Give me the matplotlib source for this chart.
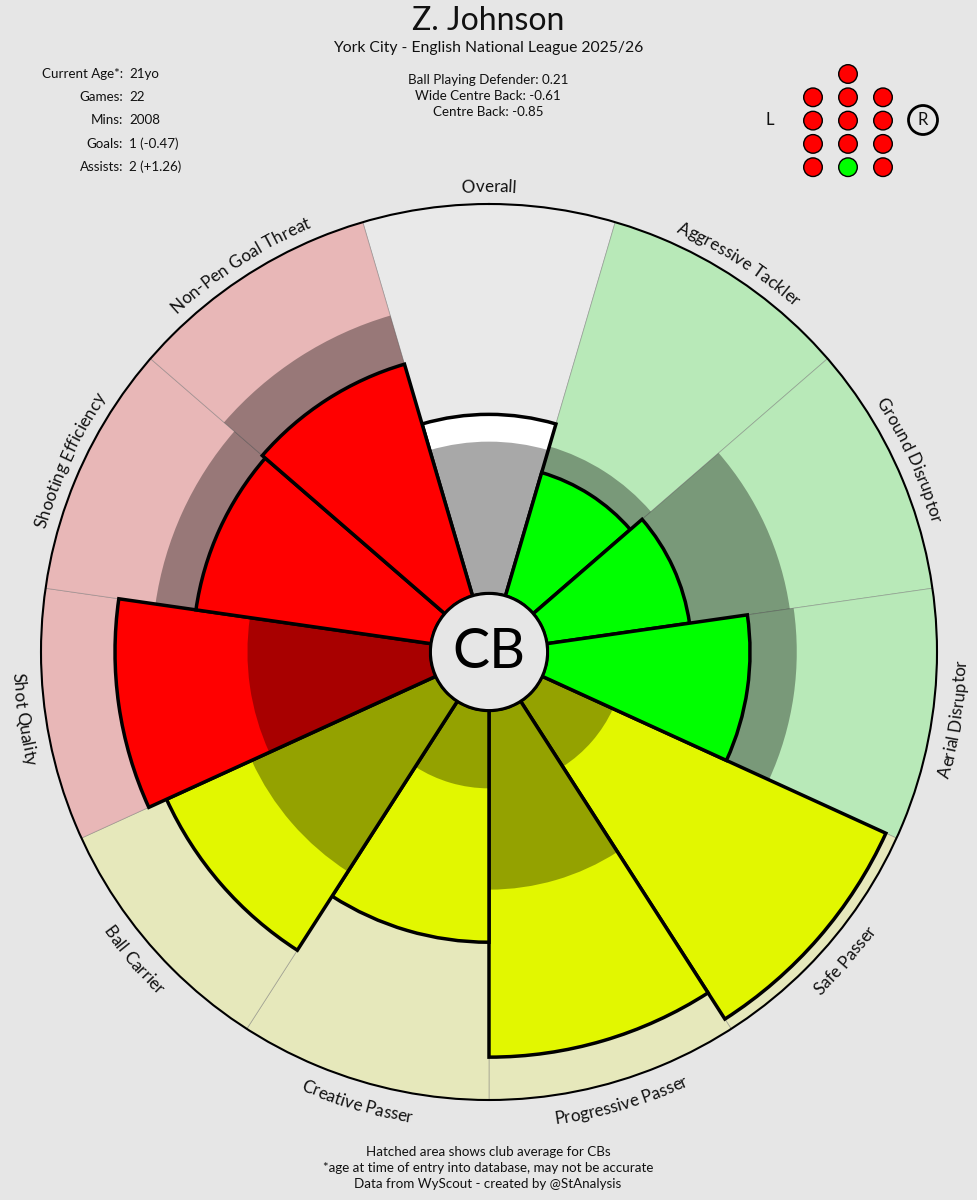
import numpy as np
import matplotlib
matplotlib.use("Agg")
import matplotlib.pyplot as plt
from matplotlib.patches import Circle
from matplotlib.font_manager import FontProperties

# ---------------- data ----------------
categories = ["Overall", "Aggressive Tackler", "Ground Disruptor", "Aerial Disruptor",
              "Safe Passer", "Progressive Passer", "Creative Passer", "Ball Carrier",
              "Shot Quality", "Shooting Efficiency", "Non-Pen Goal Threat"]
groups = ["overall", "def", "def", "def", "pass", "pass", "pass", "pass", "att", "att", "att"]
player_values = [46, 33, 37, 52, 97, 89, 59.5, 76, 81, 61, 62]
club_average = [39, 40, 63, 64, 20, 46, 20, 52, 47, 71.5, 75]

player_name = "Z. Johnson"
subtitle = "York City - English National League 2025/26"
role_names = ["Ball Playing Defender", "Wide Centre Back", "Centre Back"]
role_scores = ["0.21", "-0.61", "-0.85"]
info_keys = ["Current Age*:", "Games:", "Mins:", "Goals:", "Assists:"]
info_vals = ["21yo", "22", "2008", "1 (-0.47)", "2 (+1.26)"]
position_label = "CB"
footer_lines = ["Hatched area shows club average for CBs",
                "*age at time of entry into database, may not be accurate",
                "Data from WyScout - created by @StAnalysis"]
# formation dots: (column, row, is_player_position)
formation = [(0, 0, False),
             (-1, 1, False), (0, 1, False), (1, 1, False),
             (-1, 2, False), (0, 2, False), (1, 2, False),
             (-1, 3, False), (0, 3, False), (1, 3, False),
             (-1, 4, False), (0, 4, True), (1, 4, False)]

# ---------------- style ----------------
BG = "#e6e6e6"
bg_colors = {"overall": "#e9e9e9", "def": "#b8e9b8", "pass": "#e6e8bb", "att": "#e8b7b7"}
bar_colors = {"overall": "#ffffff", "def": "#00ff00", "pass": "#e2f700", "att": "#ff0000"}
FONT = ["Lato", "DejaVu Sans"]
TXT = "#111111"
plt.rcParams["font.family"] = FONT

W, H, DPI = 977, 1200, 100
fig = plt.figure(figsize=(W / DPI, H / DPI), dpi=DPI, facecolor=BG)

CX, CY, R_OUT = 489, 652, 448
HOLE, RMAX = 15, 100
PX = R_OUT / (HOLE + RMAX)

ax = fig.add_axes([(CX - R_OUT) / W, (H - CY - R_OUT) / H, 2 * R_OUT / W, 2 * R_OUT / H],
                  projection="polar")
ax.set_theta_zero_location("N")
ax.set_theta_direction(-1)
ax.set_facecolor("none")
ax.grid(False)
ax.set_xticks([])
ax.set_yticks([])
ax.spines["polar"].set_linewidth(1.5)
ax.spines["polar"].set_color("black")

n = len(categories)
theta = np.arange(n) * 2 * np.pi / n
width = 2 * np.pi / n

ax.bar(theta, [RMAX] * n, width=width, bottom=0,
       color=[bg_colors[g] for g in groups], edgecolor=(0.45, 0.45, 0.45, 0.45),
       linewidth=0.6, zorder=1)
for i in range(n):
    bar_on_top = player_values[i] <= club_average[i]
    ax.bar(theta[i], player_values[i], width=width, bottom=0,
           color=bar_colors[groups[i]], edgecolor="black", linewidth=2.5,
           zorder=4 if bar_on_top else 2)
    ax.bar(theta[i], club_average[i], width=width, bottom=0, color="black", alpha=0.34,
           linewidth=0, zorder=3)
ax.set_ylim(-HOLE, RMAX)

ax.add_patch(Circle((0.5, 0.5), 0.5 * HOLE / (HOLE + RMAX), transform=ax.transAxes,
                    facecolor=BG, edgecolor="black", linewidth=2, zorder=5, clip_on=False))
ax.text(0.5, 0.5, position_label, transform=ax.transAxes, ha="center", va="center",
        fontsize=40, color="black", zorder=6)

# curved labels
renderer = fig.canvas.get_renderer()
fp = FontProperties(family=FONT, size=12.3)


def tw(s):
    if not s:
        return 0.0
    return renderer.get_text_width_height_descent(s, fp, ismath=False)[0]


def curved(text, theta_deg, top):
    r_px = 460 if top else 477
    total = tw(text)
    r_data = r_px / PX - HOLE
    for k, ch in enumerate(text):
        if ch == " ":
            continue
        c = (tw(text[:k]) + tw(text[:k + 1])) / 2 - total / 2
        d = np.degrees(c / r_px)
        th = theta_deg + d if top else theta_deg - d
        rot = -th if top else 180 - th
        ax.text(np.radians(th), r_data, ch, fontproperties=fp, ha="center", va="baseline",
                rotation=rot, rotation_mode="anchor", clip_on=False, color=TXT)


for i, cat in enumerate(categories):
    deg = np.degrees(theta[i])
    top = deg <= 90 or deg >= 270
    curved(cat, deg, top)

# header / overlay axes in pixel coordinates
hx = fig.add_axes([0, 0, 1, 1], facecolor="none")
hx.set_xlim(0, W)
hx.set_ylim(H, 0)
hx.axis("off")

hx.text(488, 21, player_name, ha="center", va="center", fontsize=23, color=TXT)
hx.text(488, 48, subtitle, ha="center", va="center", fontsize=11.3, color=TXT)
for j, (nm, sc) in enumerate(zip(role_names, role_scores)):
    hx.text(488, 80 + j * 15.8, f"{nm}: {sc}", ha="center", va="center", fontsize=9.6,
            color=TXT)
for j, (k, v) in enumerate(zip(info_keys, info_vals)):
    y = 74 + j * 23.2
    hx.text(123, y, k, ha="right", va="center", fontsize=9.6, color=TXT)
    hx.text(129, y, v, ha="left", va="center", fontsize=9.6, color=TXT)
for j, line in enumerate(footer_lines):
    hx.text(488, 1152 + j * 16, line, ha="center", va="center", fontsize=9.6, color=TXT)

for col, row, me in formation:
    x = 848 + col * 35
    y = 74 + row * 23.3
    hx.add_patch(Circle((x, y), 9.3, facecolor="#00ff00" if me else "#ff0000",
                        edgecolor="black", linewidth=1))
hx.text(770, 120, "L", ha="center", va="center", fontsize=12, color=TXT)
hx.text(923, 120, "R", ha="center", va="center", fontsize=12, color=TXT)
hx.add_patch(Circle((923, 120), 14.5, facecolor="none", edgecolor="black", linewidth=2))

fig.savefig("out.png", dpi=DPI, facecolor=BG)
